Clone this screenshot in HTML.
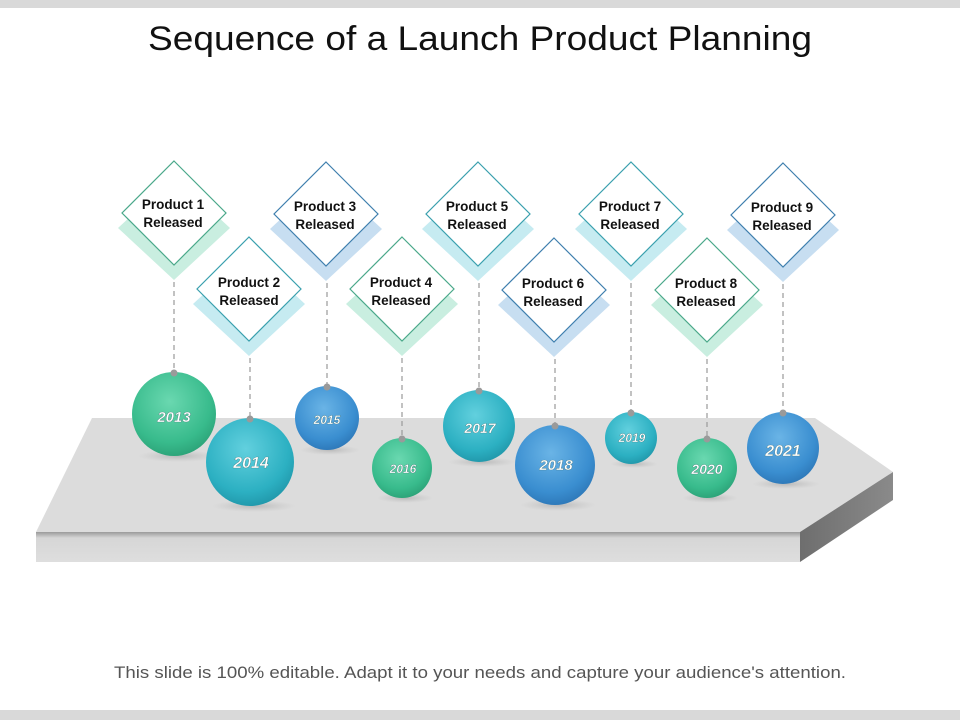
<!DOCTYPE html>
<html><head><meta charset="utf-8"><style>
html,body{margin:0;padding:0;background:#fff;}
svg{display:block;font-family:"Liberation Sans",Arial,sans-serif;}
</style></head><body>
<svg width="960" height="720" viewBox="0 0 960 720" xmlns="http://www.w3.org/2000/svg" font-family="'Liberation Sans', Arial, sans-serif">
<defs>
<radialGradient id="gG" cx="0.45" cy="0.35" r="0.7"><stop offset="0" stop-color="#6ad8b0"/><stop offset="0.7" stop-color="#38bb8c"/><stop offset="1" stop-color="#2a9e74"/></radialGradient>
<radialGradient id="gC" cx="0.45" cy="0.35" r="0.7"><stop offset="0" stop-color="#62d0de"/><stop offset="0.7" stop-color="#2cb0c2"/><stop offset="1" stop-color="#1f93a6"/></radialGradient>
<radialGradient id="gB" cx="0.45" cy="0.35" r="0.7"><stop offset="0" stop-color="#6ab4e6"/><stop offset="0.7" stop-color="#3a8ed0"/><stop offset="1" stop-color="#2b74b4"/></radialGradient>
<linearGradient id="front" x1="0" y1="0" x2="0" y2="1"><stop offset="0" stop-color="#9a9a9a"/><stop offset="0.2" stop-color="#d6d6d6"/><stop offset="1" stop-color="#dedede"/></linearGradient>
<linearGradient id="side" x1="0" y1="0" x2="1" y2="0"><stop offset="0" stop-color="#6e6e6e"/><stop offset="1" stop-color="#8a8a8a"/></linearGradient>
<radialGradient id="sh" cx="0.5" cy="0.5" r="0.5"><stop offset="0" stop-color="#aaa" stop-opacity="0.7"/><stop offset="1" stop-color="#bbb" stop-opacity="0"/></radialGradient>
</defs>
<rect x="0" y="0" width="960" height="8" fill="#d9d9d9"/>
<rect x="0" y="710" width="960" height="10" fill="#d9d9d9"/>
<text x="480" y="50" text-anchor="middle" font-size="34" fill="#111" textLength="664" lengthAdjust="spacingAndGlyphs">Sequence of a Launch Product Planning</text>
<text x="480" y="678" text-anchor="middle" font-size="17" fill="#555" textLength="732" lengthAdjust="spacingAndGlyphs">This slide is 100% editable. Adapt it to your needs and capture your audience's attention.</text>

<polygon points="92,418 815,418 893,472 800,532 36,532" fill="#dcdcdc"/>
<polygon points="36,532 800,532 800,562 36,562" fill="url(#front)"/>
<polygon points="800,532 893,472 893,500 800,562" fill="url(#side)"/>

<g stroke-width="1.2">
<polygon points="174,176 230,228 174,280 118,228" fill="#c9eee0"/>
<polygon points="174,161 226,213 174,265 122,213" fill="#fff" stroke="#4aa88a"/>
<polygon points="249,252 305,304 249,356 193,304" fill="#c6ebf1"/>
<polygon points="249,237 301,289 249,341 197,289" fill="#fff" stroke="#3aa0ae"/>
<polygon points="326,177 382,229 326,281 270,229" fill="#c7def1"/>
<polygon points="326,162 378,214 326,266 274,214" fill="#fff" stroke="#3f7fae"/>
<polygon points="402,252 458,304 402,356 346,304" fill="#c9eee0"/>
<polygon points="402,237 454,289 402,341 350,289" fill="#fff" stroke="#4aa88a"/>
<polygon points="478,177 534,229 478,281 422,229" fill="#c6ebf1"/>
<polygon points="478,162 530,214 478,266 426,214" fill="#fff" stroke="#3aa0ae"/>
<polygon points="554,253 610,305 554,357 498,305" fill="#c7def1"/>
<polygon points="554,238 606,290 554,342 502,290" fill="#fff" stroke="#3f7fae"/>
<polygon points="631,177 687,229 631,281 575,229" fill="#c6ebf1"/>
<polygon points="631,162 683,214 631,266 579,214" fill="#fff" stroke="#3aa0ae"/>
<polygon points="707,253 763,305 707,357 651,305" fill="#c9eee0"/>
<polygon points="707,238 759,290 707,342 655,290" fill="#fff" stroke="#4aa88a"/>
<polygon points="783,178 839,230 783,282 727,230" fill="#c7def1"/>
<polygon points="783,163 835,215 783,267 731,215" fill="#fff" stroke="#3f7fae"/>
</g>
<g font-size="13.5" font-weight="bold" fill="#111" text-anchor="middle">
<text x="173" y="209">Product 1</text><text x="173" y="227">Released</text>
<text x="249" y="287">Product 2</text><text x="249" y="305">Released</text>
<text x="325" y="211">Product 3</text><text x="325" y="229">Released</text>
<text x="401" y="287">Product 4</text><text x="401" y="305">Released</text>
<text x="477" y="211">Product 5</text><text x="477" y="229">Released</text>
<text x="553" y="288">Product 6</text><text x="553" y="306">Released</text>
<text x="630" y="211">Product 7</text><text x="630" y="229">Released</text>
<text x="706" y="288">Product 8</text><text x="706" y="306">Released</text>
<text x="782" y="212">Product 9</text><text x="782" y="230">Released</text>
</g>

<g stroke="#9a9a9a" stroke-width="1.2" stroke-dasharray="5,4">
<line x1="174" y1="282" x2="174" y2="372"/>
<line x1="250" y1="358" x2="250" y2="418"/>
<line x1="327" y1="283" x2="327" y2="386"/>
<line x1="402" y1="358" x2="402" y2="438"/>
<line x1="479" y1="283" x2="479" y2="390"/>
<line x1="555" y1="359" x2="555" y2="425"/>
<line x1="631" y1="283" x2="631" y2="412"/>
<line x1="707" y1="359" x2="707" y2="438"/>
<line x1="783" y1="284" x2="783" y2="412"/>
</g>

<g fill="url(#sh)">
<ellipse cx="178" cy="456" rx="40" ry="6"/>
<ellipse cx="254" cy="506" rx="42" ry="6"/>
<ellipse cx="330" cy="450" rx="30" ry="5"/>
<ellipse cx="405" cy="498" rx="28" ry="5"/>
<ellipse cx="482" cy="462" rx="34" ry="5"/>
<ellipse cx="558" cy="505" rx="38" ry="6"/>
<ellipse cx="634" cy="464" rx="24" ry="4"/>
<ellipse cx="710" cy="498" rx="28" ry="5"/>
<ellipse cx="786" cy="484" rx="34" ry="5"/>
</g>
<circle cx="174" cy="414" r="42" fill="url(#gG)"/>
<circle cx="250" cy="462" r="44" fill="url(#gC)"/>
<circle cx="327" cy="418" r="32" fill="url(#gB)"/>
<circle cx="402" cy="468" r="30" fill="url(#gG)"/>
<circle cx="479" cy="426" r="36" fill="url(#gC)"/>
<circle cx="555" cy="465" r="40" fill="url(#gB)"/>
<circle cx="631" cy="438" r="26" fill="url(#gC)"/>
<circle cx="707" cy="468" r="30" fill="url(#gG)"/>
<circle cx="783" cy="448" r="36" fill="url(#gB)"/>
<g fill="#9a9a9a">
<circle cx="174" cy="373" r="3.5"/><circle cx="250" cy="419" r="3.5"/><circle cx="327" cy="387" r="3.5"/>
<circle cx="402" cy="439" r="3.5"/><circle cx="479" cy="391" r="3.5"/><circle cx="555" cy="426" r="3.5"/>
<circle cx="631" cy="413" r="3.5"/><circle cx="707" cy="439" r="3.5"/><circle cx="783" cy="413" r="3.5"/>
</g>
<g fill="#fff" font-weight="bold" font-style="italic" text-anchor="middle" stroke="#3a6a6a" stroke-width="0.3">
<text x="174" y="422" font-size="15">2013</text>
<text x="251" y="468" font-size="16">2014</text>
<text x="327" y="424" font-size="12">2015</text>
<text x="403" y="473" font-size="12">2016</text>
<text x="480" y="433" font-size="14">2017</text>
<text x="556" y="470" font-size="15">2018</text>
<text x="632" y="442" font-size="12">2019</text>
<text x="707" y="474" font-size="14">2020</text>
<text x="783" y="456" font-size="16">2021</text>
</g>
</svg>
</body></html>
